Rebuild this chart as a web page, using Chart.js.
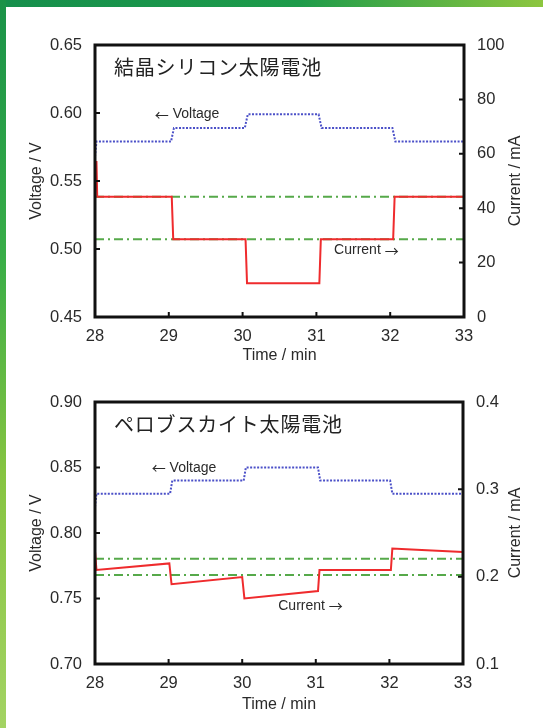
<!DOCTYPE html>
<html>
<head>
<meta charset="utf-8">
<script src="https://cdn.jsdelivr.net/npm/chart.js@4.4.1/dist/chart.umd.min.js"></script>
<style>
  html, body { margin: 0; padding: 0; background: #fff; }
  #page { position: relative; width: 543px; height: 728px; overflow: hidden; background: #fff; }
  #topbar { position: absolute; left: 0; top: 0; width: 543px; height: 7px;
    background: linear-gradient(to right, #168f4c, #1d9b4a 55%, #8dc63f); }
  #leftbar { position: absolute; left: 0; top: 0; width: 6px; height: 728px;
    background: linear-gradient(to bottom, #1a9248, #38ad47 35%, #86c441 65%, #a3d363); }
  canvas { position: absolute; left: 0; }
</style>
</head>
<body>
<div id="page">
  <div id="topbar"></div>
  <div id="leftbar"></div>
  <canvas id="siChart" width="543" height="370" style="top:0"></canvas>
  <canvas id="pvChart" width="543" height="358" style="top:370px"></canvas>
</div>
<script>
// crystalline silicon cell (top chart)
var siVoltTime = [28, 28.02, 29.03, 29.07, 30.03, 30.07, 31.03, 31.07, 32.03, 32.07, 33];
var siVolt     = [0.568, 0.579, 0.579, 0.589, 0.589, 0.599, 0.599, 0.589, 0.589, 0.579, 0.579];
var siCurrTime = [28, 28.02, 28.03, 29.04, 29.06, 30.04, 30.06, 31.04, 31.06, 32.04, 32.06, 33];
var siCurr     = [57, 57, 44.2, 44.2, 28.6, 28.6, 12.4, 12.4, 28.6, 28.6, 44.2, 44.2];
var siRefCurr  = [44.2, 28.6];

// perovskite cell (bottom chart)
var pvVoltTime = [28, 28.02, 29.02, 29.05, 30.02, 30.05, 31.03, 31.06, 32.01, 32.04, 33];
var pvVolt     = [0.820, 0.830, 0.830, 0.840, 0.840, 0.850, 0.850, 0.840, 0.840, 0.830, 0.830];
var pvCurrTime = [28, 28.02, 29.01, 29.04, 30.0, 30.03, 31.03, 31.05, 32.02, 32.04, 32.3, 33];
var pvCurr     = [0.229, 0.2076, 0.2152, 0.1913, 0.1996, 0.175, 0.1836, 0.2076, 0.2076, 0.2323, 0.231, 0.2281];
var pvRefCurr  = [0.2205, 0.202];

var timeRange = [28, 33];

var FONT = "'Liberation Sans', Arial, sans-serif";
var TXT = '#2a2a2a';

function pts(xs, ys) {
  return xs.map(function (x, i) { return {x: x, y: ys[i]}; });
}
function hline(v) {
  return [{x: timeRange[0], y: v}, {x: timeRange[1], y: v}];
}

// arrows look wider in the original, draw them with the CJK face
function drawNote(ctx, text, x, y) {
  text.split(/([←→])/).forEach(function (part) {
    if (!part) return;
    ctx.font = /[←→]/.test(part) ? "14px 'Noto Sans CJK JP'" : '14px ' + FONT;
    ctx.fillText(part, x, y);
    x += ctx.measureText(part).width;
  });
}

// frame, inward tick marks, labels and right axis title
var decorPlugin = {
  id: 'decor',
  afterDatasetsDraw: function (chart, args, o) {
    var ctx = chart.ctx, a = chart.chartArea, s = chart.scales;
    ctx.save();
    ctx.strokeStyle = '#111';
    ctx.lineWidth = 2;
    ctx.beginPath();
    s.x.ticks.forEach(function (t) {
      var px = s.x.getPixelForValue(t.value);
      if (px > a.left + 3 && px < a.right - 3) { ctx.moveTo(px, a.bottom); ctx.lineTo(px, a.bottom - 5); }
    });
    s.y.ticks.forEach(function (t) {
      var py = s.y.getPixelForValue(t.value);
      if (py > a.top + 3 && py < a.bottom - 3) { ctx.moveTo(a.left, py); ctx.lineTo(a.left + 5, py); }
    });
    s.y2.ticks.forEach(function (t) {
      var py = s.y2.getPixelForValue(t.value);
      if (py > a.top + 3 && py < a.bottom - 3) { ctx.moveTo(a.right, py); ctx.lineTo(a.right - 5, py); }
    });
    ctx.stroke();
    ctx.lineWidth = 3;
    ctx.strokeRect(a.left, a.top, a.right - a.left, a.bottom - a.top);

    // panel title
    ctx.fillStyle = '#222';
    ctx.font = "20px 'Noto Sans CJK JP'";
    ctx.letterSpacing = '0.8px';
    ctx.textAlign = 'left';
    ctx.textBaseline = 'middle';
    ctx.fillText(o.title, a.left + 19, a.top + 22);
    ctx.letterSpacing = '0px';

    // curve notes
    ctx.fillStyle = TXT;
    o.notes.forEach(function (n) {
      drawNote(ctx, n.text, s.x.getPixelForValue(n.x), s[n.axis].getPixelForValue(n.y));
    });

    // right axis title, reading bottom to top
    ctx.font = '16px ' + FONT;
    ctx.translate(516, (a.top + a.bottom) / 2);
    ctx.rotate(-Math.PI / 2);
    ctx.textAlign = 'center';
    ctx.fillText('Current / mA', 0, 0);
    ctx.restore();
  }
};

function makeChart(id, cfg) {
  return new Chart(document.getElementById(id), {
    type: 'line',
    data: {
      datasets: [{
        data: pts(cfg.currTime, cfg.curr),
        yAxisID: 'y2',
        borderColor: '#ef2b2d',
        borderWidth: 2
      }, {
        data: pts(cfg.voltTime, cfg.volt),
        yAxisID: 'y',
        borderColor: '#4b50c8',
        borderWidth: 2,
        borderDash: [2, 1.5]
      }, {
        data: hline(cfg.ref[0]),
        yAxisID: 'y2',
        borderColor: '#56a94a',
        borderWidth: 2,
        borderDash: [9, 4, 2, 4]
      }, {
        data: hline(cfg.ref[1]),
        yAxisID: 'y2',
        borderColor: '#56a94a',
        borderWidth: 2,
        borderDash: [9, 4, 2, 4]
      }]
    },
    options: {
      responsive: false,
      animation: false,
      layout: { padding: { top: cfg.top, left: 0, right: 0, bottom: 0 } },
      elements: { point: { radius: 0 }, line: { tension: 0 } },
      scales: {
        x: {
          type: 'linear',
          min: timeRange[0], max: timeRange[1],
          grid: { display: false, drawTicks: false },
          border: { display: false },
          ticks: { stepSize: 1, padding: 10, color: TXT, font: { family: FONT, size: 16.5 } },
          title: { display: true, text: 'Time / min', color: TXT,
                   font: { family: FONT, size: 16 }, padding: { top: 0, bottom: cfg.xTitlePad } },
          afterFit: function (sc) { sc.height = cfg.xHeight; }
        },
        y: {
          position: 'left',
          min: cfg.vMin, max: cfg.vMax,
          grid: { display: false, drawTicks: false },
          border: { display: false },
          ticks: { stepSize: 0.05, padding: 13, color: TXT, font: { family: FONT, size: 16.5 },
                   callback: function (v) { return v.toFixed(2); } },
          title: { display: true, text: 'Voltage / V', color: TXT,
                   font: { family: FONT, size: 16 }, padding: { top: 27, bottom: 0 } },
          afterFit: function (sc) { sc.width = 95; }
        },
        y2: {
          position: 'right',
          min: cfg.cMin, max: cfg.cMax,
          grid: { display: false, drawTicks: false },
          border: { display: false },
          ticks: { stepSize: cfg.cStep, padding: 13, color: TXT, font: { family: FONT, size: 16.5 },
                   callback: cfg.cFmt },
          afterFit: function (sc) { sc.width = cfg.rightWidth; }
        }
      },
      plugins: {
        legend: { display: false },
        tooltip: { enabled: false },
        decor: { title: cfg.title, notes: cfg.notes }
      }
    },
    plugins: [decorPlugin]
  });
}

makeChart('siChart', {
  title: '結晶シリコン太陽電池',
  voltTime: siVoltTime, volt: siVolt, currTime: siCurrTime, curr: siCurr, ref: siRefCurr,
  vMin: 0.45, vMax: 0.65, cMin: 0, cMax: 100, cStep: 20,
  cFmt: function (v) { return v; },
  top: 45, xHeight: 53, xTitlePad: 5, rightWidth: 79,
  notes: [
    { text: '← Voltage', x: 28.81, y: 0.599, axis: 'y' },
    { text: 'Current →', x: 31.24, y: 24.4, axis: 'y2' }
  ]
});

makeChart('pvChart', {
  title: 'ペロブスカイト太陽電池',
  voltTime: pvVoltTime, volt: pvVolt, currTime: pvCurrTime, curr: pvCurr, ref: pvRefCurr,
  vMin: 0.70, vMax: 0.90, cMin: 0.1, cMax: 0.4, cStep: 0.1,
  cFmt: function (v) { return v.toFixed(1); },
  top: 32, xHeight: 64, xTitlePad: 14, rightWidth: 80,
  notes: [
    { text: '← Voltage', x: 28.77, y: 0.8496, axis: 'y' },
    { text: 'Current →', x: 30.49, y: 0.1665, axis: 'y2' }
  ]
});
</script>
</body>
</html>
